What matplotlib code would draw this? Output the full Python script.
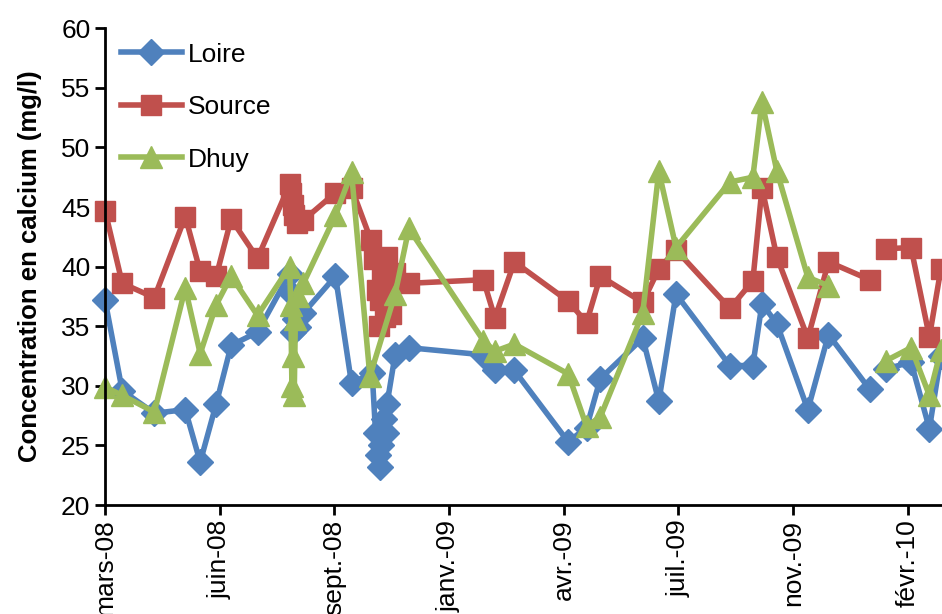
import matplotlib
matplotlib.use('Agg')
import matplotlib.pyplot as plt
import numpy as np
import pandas as pd

# Loire
loire_dates = ['2008-03-12', '2008-03-27', '2008-04-24', '2008-05-21', '2008-06-03', '2008-06-17',
               '2008-06-30', '2008-07-23', '2008-08-20', '2008-08-21', '2008-08-23', '2008-08-25',
               '2008-08-27', '2008-09-01', '2008-09-29', '2008-10-13', '2008-10-31', '2008-11-03',
               '2008-11-05', '2008-11-07', '2008-11-08', '2008-11-10', '2008-11-12', '2008-11-13',
               '2008-11-20', '2008-12-02', '2009-02-05', '2009-02-15', '2009-03-04', '2009-04-20',
               '2009-05-06', '2009-05-18', '2009-06-24', '2009-07-08', '2009-07-23', '2009-09-08',
               '2009-09-28', '2009-10-06', '2009-10-19', '2009-11-15', '2009-12-03', '2010-01-08',
               '2010-01-15', '2010-01-22', '2010-02-13', '2010-03-01', '2010-03-11']
loire = [37.2, 29.6, 27.7, 28.0, 23.6, 28.5,
         33.4, 34.5, 39.4, 37.8, 34.5, 35.6,
         34.9, 36.1, 39.2, 30.2, 31.1, 26.0,
         24.2, 23.2, 25.0, 27.2, 26.0, 28.5,
         32.6, 33.2, 32.6, 31.3, 31.3, 25.3,
         26.5, 30.6, 34.0, 28.7, 37.7, 31.7,
         31.7, 36.9, 35.2, 28.0, 34.3, 29.7,
         None, 31.4, 32.0, 26.4, 32.5]

# Source
source_dates = ['2008-03-12', '2008-03-27', '2008-04-24', '2008-05-21', '2008-06-03', '2008-06-17',
                '2008-06-30', '2008-07-23', '2008-08-20', '2008-08-21', '2008-08-23', '2008-08-24',
                '2008-08-26', '2008-09-01', '2008-09-29', '2008-10-13', '2008-10-30', '2008-11-02',
                '2008-11-04', '2008-11-06', '2008-11-07', '2008-11-09', '2008-11-11', '2008-11-13',
                '2008-11-16', '2008-11-20', '2008-12-02', '2009-02-05', '2009-02-15', '2009-03-04',
                '2009-04-20', '2009-05-06', '2009-05-18', '2009-06-24', '2009-07-08', '2009-07-23',
                '2009-09-08', '2009-09-28', '2009-10-06', '2009-10-19', '2009-11-15', '2009-12-03',
                '2010-01-08', '2010-01-15', '2010-01-22', '2010-02-13', '2010-03-01', '2010-03-11']
source = [44.7, 38.6, 37.4, 44.2, 39.6, 39.2,
          44.0, 40.7, 46.9, 46.2, 45.2, 44.3,
          43.7, 43.9, 46.2, 46.6, 42.2, 40.6,
          38.0, 35.0, 37.2, 39.6, 35.8, 40.8,
          36.0, 39.5, 38.6, 38.9, 35.7, 40.4,
          37.1, 35.3, 39.2, 37.0, 39.8, 41.4,
          36.5, 38.8, 46.6, 40.8, 34.0, 40.4,
          38.9, None, 41.5, 41.6, 34.1, 39.8]

# Dhuy
dhuy_dates = ['2008-03-12', '2008-03-27', '2008-04-24', '2008-05-21', '2008-06-03', '2008-06-17',
              '2008-06-30', '2008-07-23', '2008-08-20', '2008-08-21', '2008-08-22', '2008-08-23',
              '2008-08-24', '2008-08-25', '2008-08-27', '2008-09-01', '2008-09-29', '2008-10-13',
              '2008-10-29', '2008-11-20', '2008-12-02', '2009-02-05', '2009-02-15', '2009-03-04',
              '2009-04-20', '2009-05-06', '2009-05-18', '2009-06-24', '2009-07-08', '2009-07-23',
              '2009-09-08', '2009-09-28', '2009-10-06', '2009-10-19', '2009-11-15', '2009-12-03',
              '2010-01-08', '2010-01-22', '2010-02-13', '2010-03-01', '2010-03-11']
dhuy = [29.9, 29.2, 27.8, 38.2, 32.7, 36.8,
        39.2, 35.9, 40.0, 36.8, 30.0, 32.5,
        29.2, 35.6, 37.5, 38.6, 44.3, 47.9,
        30.8, 37.7, 43.2, 33.8, 32.9, 33.5,
        31.0, 26.6, 27.4, 36.1, 48.0, 41.6,
        47.1, 47.5, 53.8, 48.0, 39.1, 38.4,
        None, 32.1, 33.2, 29.2, 33.0]

tick_labels = ['mars-08', 'juin-08', 'sept.-08', 'janv.-09', 'avr.-09', 'juil.-09', 'nov.-09', 'févr.-10']

plt.rcParams['font.family'] = ['Liberation Sans Narrow', 'Liberation Sans', 'DejaVu Sans']

fig = plt.figure(figsize=(9.42, 6.14), dpi=100)
ax = fig.add_axes([0.1115, 0.1775, 0.8885, 0.7765])

ax.plot(pd.to_datetime(loire_dates), np.array(loire, dtype=float), color='#4F81BD', lw=4,
        marker='D', ms=13, label='Loire', clip_on=False)
ax.plot(pd.to_datetime(source_dates), np.array(source, dtype=float), color='#C0504D', lw=4,
        marker='s', ms=14, label='Source', clip_on=False)
ax.plot(pd.to_datetime(dhuy_dates), np.array(dhuy, dtype=float), color='#9BBB59', lw=4,
        marker='^', ms=16, label='Dhuy', clip_on=False)

start = pd.Timestamp('2008-03-12')
ax.set_xlim(start, start + pd.Timedelta(days=730))
ax.set_xticks([start + pd.Timedelta(days=100 * k) for k in range(len(tick_labels))])
ax.set_xticklabels(tick_labels, rotation=90)

ax.set_ylim(20, 60)
ax.set_yticks(range(20, 61, 5))
ax.set_ylabel('Concentration en calcium (mg/l)', fontsize=18.5, fontweight='bold', labelpad=14)

ax.spines['top'].set_visible(False)
ax.spines['right'].set_visible(False)
ax.spines['left'].set_linewidth(2)
ax.spines['bottom'].set_linewidth(2)
ax.tick_params(direction='out', length=7, width=2, labelsize=19)

ax.legend(loc='upper left', frameon=False, fontsize=19, handlelength=2.3,
          labelspacing=1.08, bbox_to_anchor=(0.0, 1.003), borderaxespad=0.2, handletextpad=0.25)

plt.savefig('out.png', dpi=100)
